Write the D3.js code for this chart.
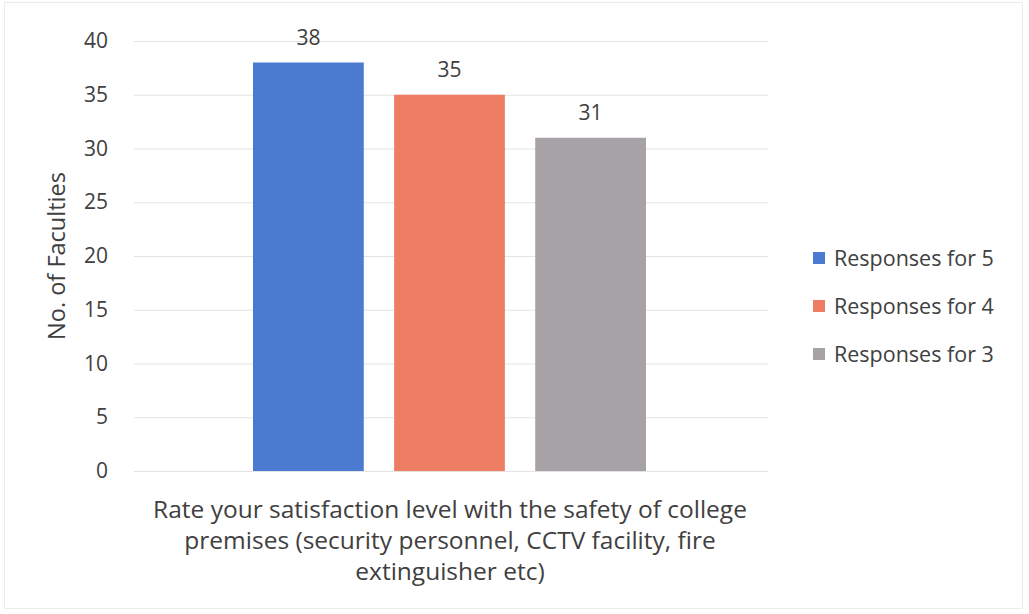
<!DOCTYPE html>
<html>
<head>
<meta charset="utf-8">
<script src="https://cdn.jsdelivr.net/npm/d3@7"></script>
<style>
  html, body { margin: 0; padding: 0; background: #fff; }
  svg text { font-family: "Open Sans", "Noto Sans", sans-serif; fill: #404040; }
</style>
</head>
<body>
<svg id="chart" width="1029" height="614"></svg>
<script>
const categories = ["Rate your satisfaction level with the safety of college premises (security personnel, CCTV facility, fire extinguisher etc)"];
const categoryLines = ["Rate your satisfaction level with the safety of college", "premises (security personnel, CCTV facility, fire", "extinguisher etc)"];
const seriesNames = ["Responses for 5", "Responses for 4", "Responses for 3"];
const seriesValues = [38, 35, 31];
const seriesColors = ["#4a7bd0", "#ee7e63", "#a6a2a5"];
const yTicks = [0, 5, 10, 15, 20, 25, 30, 35, 40];
const yTitle = "No. of Faculties";

const svg = d3.select("#chart");

// faint outer frame
svg.append("rect").attr("x", 4.5).attr("y", 2.5).attr("width", 1018).attr("height", 606)
  .attr("fill", "none").attr("stroke", "#ebebeb").attr("stroke-width", 1);

const plot = { left: 134, right: 768, top: 41, bottom: 471 };

const y = d3.scaleLinear().domain([0, 40]).range([plot.bottom, plot.top]);
const x0 = d3.scaleBand().domain(categories).range([plot.left, plot.right]).paddingOuter(0).paddingInner(0);
const x1 = d3.scaleBand().domain(seriesNames)
  .range([plot.left + 119, plot.right - 122]).paddingInner(0.215).paddingOuter(0);

// gridlines + tick labels
const yAxis = d3.axisLeft(y).tickValues(yTicks).tickSize(-(plot.right - plot.left)).tickPadding(26);
const gy = svg.append("g").attr("transform", `translate(${plot.left},0)`).call(yAxis);
gy.select(".domain").remove();
gy.selectAll(".tick line").attr("stroke", "#e3e3e3").attr("stroke-width", 1);
gy.selectAll(".tick text").attr("font-size", 21).attr("fill", "#404040")
  .attr("font-family", "'Open Sans', sans-serif");

// bars
const g = svg.append("g");
const data = seriesNames.map((s, i) => ({ series: s, value: seriesValues[i], color: seriesColors[i] }));
g.selectAll("rect.bar").data(data).enter().append("rect")
  .attr("class", "bar")
  .attr("x", d => x1(d.series))
  .attr("y", d => y(d.value))
  .attr("width", x1.bandwidth())
  .attr("height", d => y(0) - y(d.value))
  .attr("fill", d => d.color);

// value labels
g.selectAll("text.lbl").data(data).enter().append("text")
  .attr("class", "lbl")
  .attr("x", d => x1(d.series) + x1.bandwidth() / 2)
  .attr("y", d => y(d.value) - 25)
  .attr("dy", "0.35em")
  .attr("text-anchor", "middle")
  .attr("font-size", 21)
  .text(d => d.value);

// category label (x axis)
const xl = svg.append("text").attr("text-anchor", "middle").attr("font-size", 24.5);
categoryLines.forEach((line, i) => {
  xl.append("tspan").attr("x", 450).attr("y", 518 + i * 31).text(line);
});

// y title
svg.append("text")
  .attr("transform", `translate(65,256) rotate(-90)`)
  .attr("text-anchor", "middle")
  .attr("font-size", 23.5)
  .text(yTitle);

// legend
const lg = svg.append("g").attr("transform", "translate(813,258)");
const items = lg.selectAll("g").data(data).enter().append("g")
  .attr("transform", (d, i) => `translate(0,${i * 48})`);
items.append("rect").attr("x", 0).attr("y", -6).attr("width", 12).attr("height", 12).attr("fill", d => d.color);
items.append("text").attr("x", 21).attr("y", 0).attr("dy", "0.35em").attr("font-size", 21.5).text(d => d.series);
</script>
</body>
</html>
